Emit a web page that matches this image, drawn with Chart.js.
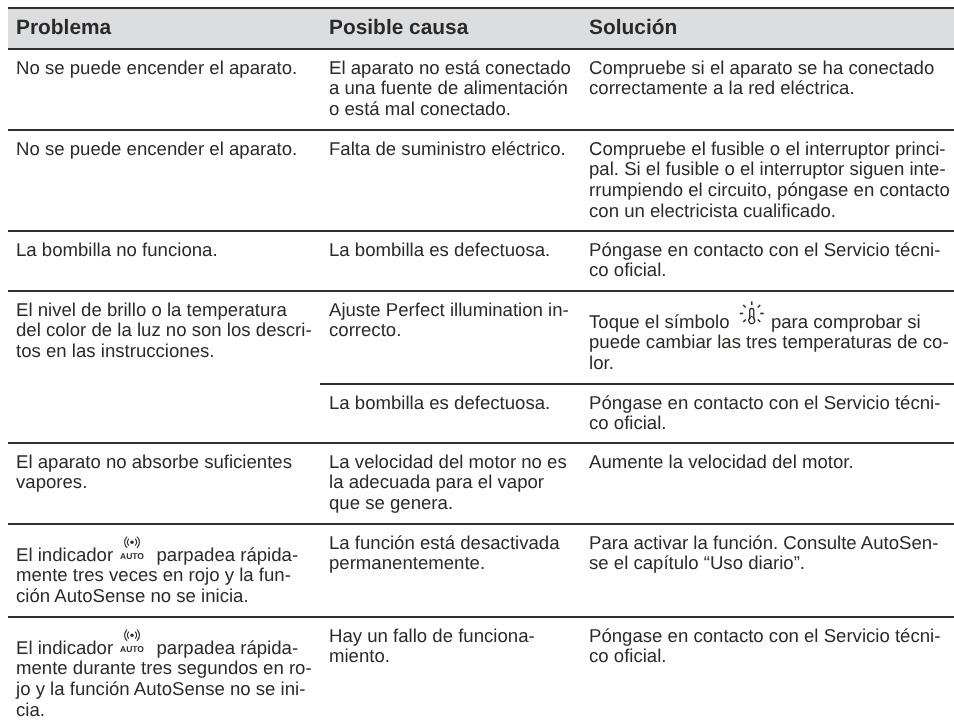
<!DOCTYPE html>
<html>
<head>
<meta charset="utf-8">
<style>
html, body { margin: 0; padding: 0; background: #fff; }
#wrap { width: 954px; height: 728px; }
</style>
<script src="https://cdn.jsdelivr.net/npm/chart.js@4"></script>
</head>
<body>
<div id="wrap"><canvas id="tabla"></canvas></div>
<script>
// Column headers
const columnas = ['Problema', 'Posible causa', 'Solución'];

// Cell text, one entry per cell, one string per printed line. {auto} and {sol} mark the icons
const problemas = [
    ['No se puede encender el aparato.'],
    ['No se puede encender el aparato.'],
    ['La bombilla no funciona.'],
    ['El nivel de brillo o la temperatura', 'del color de la luz no son los descri-', 'tos en las instrucciones.'],
    ['El aparato no absorbe suficientes', 'vapores.'],
    ['El indicador {auto} parpadea rápida-', 'mente tres veces en rojo y la fun-', 'ción AutoSense no se inicia.'],
    ['El indicador {auto} parpadea rápida-', 'mente durante tres segundos en ro-', 'jo y la función AutoSense no se ini-', 'cia.']
];
const causas = [
    ['El aparato no está conectado', 'a una fuente de alimentación', 'o está mal conectado.'],
    ['Falta de suministro eléctrico.'],
    ['La bombilla es defectuosa.'],
    ['Ajuste Perfect illumination in-', 'correcto.'],
    ['La bombilla es defectuosa.'],
    ['La velocidad del motor no es', 'la adecuada para el vapor', 'que se genera.'],
    ['La función está desactivada', 'permanentemente.'],
    ['Hay un fallo de funciona-', 'miento.']
];
const soluciones = [
    ['Compruebe si el aparato se ha conectado', 'correctamente a la red eléctrica.'],
    ['Compruebe el fusible o el interruptor princi-', 'pal. Si el fusible o el interruptor siguen inte-', 'rrumpiendo el circuito, póngase en contacto', 'con un electricista cualificado.'],
    ['Póngase en contacto con el Servicio técni-', 'co oficial.'],
    ['Toque el símbolo {sol} para comprobar si', 'puede cambiar las tres temperaturas de co-', 'lor.'],
    ['Póngase en contacto con el Servicio técni-', 'co oficial.'],
    ['Aumente la velocidad del motor.'],
    ['Para activar la función. Consulte AutoSen-', 'se el capítulo “Uso diario”.'],
    ['Póngase en contacto con el Servicio técni-', 'co oficial.']
];

// Row tops: the problem column has one cell less, its 4th cell spans two rows of the others
const filasProblema = [49, 130, 231, 291, 443, 524, 617];
const filasCausa = [49, 130, 231, 291, 384, 443, 524, 617];

const LINE_H = 20.8;
const FIRST_BASE = 24.5;
const ICON_DROP = 12;
const colX = [16, 329, 589];
const RULE_LEFT = 8;
const CAUSA_LEFT = 320;
const TEXT_FONT = '18.6px "Liberation Sans"';
const HEAD_FONT = 'bold 20.9px "Liberation Sans"';
const INK = '#2b2a29';

// Turn the cells into scatter points, one point per printed line
function cellPoints(cells, tops, x) {
    const pts = [];
    cells.forEach((lines, i) => {
        const drop = lines[0].includes('{') ? ICON_DROP : 0;
        lines.forEach((text, j) => {
            pts.push({ x: x, y: tops[i] + FIRST_BASE + drop + j * LINE_H, text: text });
        });
    });
    return pts;
}

const headPoints = columnas.map((text, i) => ({ x: colX[i], y: 34, text: text }));

function ruleLine(y, x0) {
    return {
        type: 'line',
        data: [{ x: x0, y: y }, { x: 954, y: y }],
        borderColor: '#302f2f',
        borderWidth: 1.9,
        pointRadius: 0,
        order: 1
    };
}

// Little AUTO icon: radio waves over the word
function drawAuto(ctx, x, base) {
    const cx = x + 13.7, cy = base - 18.3;
    ctx.save();
    ctx.strokeStyle = INK;
    ctx.fillStyle = INK;
    ctx.lineWidth = 1.1;
    ctx.beginPath();
    ctx.arc(cx, cy, 1.7, 0, Math.PI * 2);
    ctx.fill();
    [4.6, 7.4].forEach(r => {
        ctx.beginPath();
        ctx.arc(cx, cy, r, -0.85, 0.85);
        ctx.stroke();
        ctx.beginPath();
        ctx.arc(cx, cy, r, Math.PI - 0.85, Math.PI + 0.85);
        ctx.stroke();
    });
    ctx.font = 'bold 8.5px "Liberation Sans"';
    ctx.textAlign = 'center';
    ctx.fillText('AUTO', cx, base - 1.5);
    ctx.restore();
}

// Thermometer with sun rays around it
function drawSol(ctx, x, base) {
    const cx = x + 17, cy = base - 14;
    ctx.save();
    ctx.strokeStyle = INK;
    ctx.lineWidth = 1.6;
    [0, 45, 90, 135, 180, -45, -135].forEach(deg => {
        const a = -deg * Math.PI / 180;
        ctx.beginPath();
        ctx.moveTo(cx + Math.cos(a) * 8.5, cy + Math.sin(a) * 8.5);
        ctx.lineTo(cx + Math.cos(a) * 12, cy + Math.sin(a) * 12);
        ctx.stroke();
    });
    ctx.lineWidth = 1.3;
    ctx.beginPath();
    ctx.moveTo(cx - 2, cy + 5);
    ctx.lineTo(cx - 2, cy - 3);
    ctx.arc(cx, cy - 3, 2, Math.PI, 0);
    ctx.lineTo(cx + 2, cy + 5);
    ctx.arc(cx, cy + 7, 3, -Math.PI * 0.3, Math.PI * 1.3);
    ctx.closePath();
    ctx.stroke();
    ctx.restore();
}

// Writes the text of every point of the datasets that carry text
const textPlugin = {
    id: 'textoCeldas',
    afterDatasetsDraw(chart) {
        const ctx = chart.ctx;
        ctx.save();
        ctx.textBaseline = 'alphabetic';
        ctx.textAlign = 'left';
        ctx.textRendering = 'geometricPrecision';
        chart.data.datasets.forEach((ds, i) => {
            if (!ds.textFont) return;
            ctx.font = ds.textFont;
            ctx.fillStyle = INK;
            chart.getDatasetMeta(i).data.forEach((el, k) => {
                let px = el.x;
                const parts = ds.data[k].text.split(/(\{\w+\})/);
                parts.forEach(p => {
                    if (p === '{auto}') { drawAuto(ctx, px, el.y); px += 33; }
                    else if (p === '{sol}') { drawSol(ctx, px, el.y); px += 31; }
                    else { ctx.fillText(p, px, el.y); px += ctx.measureText(p).width; }
                });
            });
        });
        ctx.restore();
    }
};

const datasets = [
    // Header band
    {
        type: 'line',
        data: [{ x: RULE_LEFT, y: 8 }, { x: 954, y: 8 }],
        borderWidth: 0,
        pointRadius: 0,
        fill: { target: { value: 49 } },
        backgroundColor: '#dcddde',
        order: 3
    },
    ruleLine(8, RULE_LEFT),
    ruleLine(49, RULE_LEFT),
    ruleLine(130, RULE_LEFT),
    ruleLine(231, RULE_LEFT),
    ruleLine(291, RULE_LEFT),
    ruleLine(384, CAUSA_LEFT),
    ruleLine(443, RULE_LEFT),
    ruleLine(524, RULE_LEFT),
    ruleLine(617, RULE_LEFT),
    { type: 'scatter', data: headPoints, textFont: HEAD_FONT, pointRadius: 0 },
    { type: 'scatter', data: cellPoints(problemas, filasProblema, colX[0]), textFont: TEXT_FONT, pointRadius: 0 },
    { type: 'scatter', data: cellPoints(causas, filasCausa, colX[1]), textFont: TEXT_FONT, pointRadius: 0 },
    { type: 'scatter', data: cellPoints(soluciones, filasCausa, colX[2]), textFont: TEXT_FONT, pointRadius: 0 }
];

new Chart(document.getElementById('tabla').getContext('2d'), {
    type: 'scatter',
    data: { datasets: datasets },
    plugins: [textPlugin],
    options: {
        responsive: true,
        maintainAspectRatio: false,
        animation: false,
        events: [],
        layout: { padding: 0 },
        plugins: { legend: { display: false }, tooltip: { enabled: false }, title: { display: false } },
        scales: {
            x: { type: 'linear', display: false, min: 0, max: 954 },
            y: { type: 'linear', display: false, min: 0, max: 728, reverse: true }
        }
    }
});
</script>
</body>
</html>
